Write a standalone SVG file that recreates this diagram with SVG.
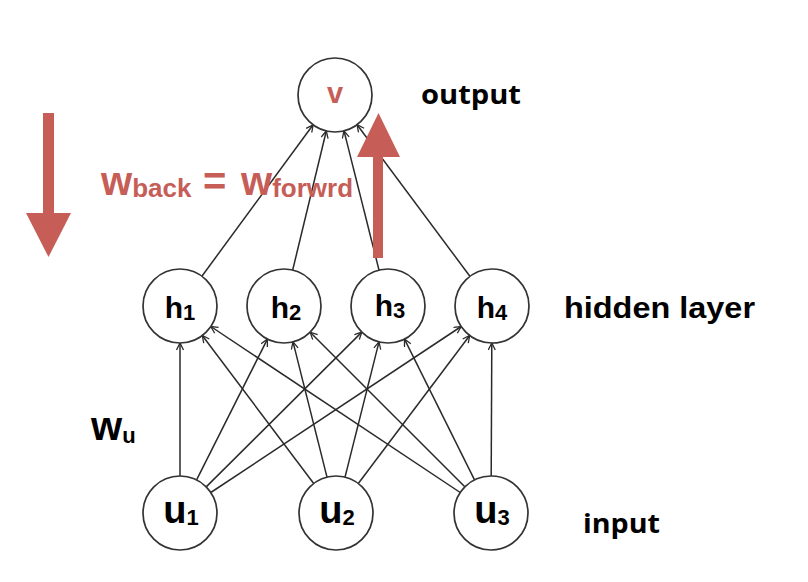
<svg xmlns="http://www.w3.org/2000/svg" width="808" height="582" viewBox="0 0 808 582">
<style>
.node circle{fill:#fff;stroke:#333;stroke-width:1.7}
.lbl{font-family:"Liberation Sans",Arial,sans-serif;font-weight:bold;fill:#000;text-anchor:middle}
.side{font-family:"Open Sans","Liberation Sans",sans-serif;font-weight:bold;fill:#000}
.conn line{stroke:#2a2a2a;stroke-width:1.5;marker-end:url(#ah)}
.red{fill:#c65d57}
</style>
<defs>
<marker id="ah" markerUnits="userSpaceOnUse" markerWidth="10" markerHeight="10" refX="8" refY="4" orient="auto">
<path d="M1,0.5 L8,4 L1,7.5" fill="none" stroke="#2a2a2a" stroke-width="1.3"/>
</marker>
</defs>
<rect width="808" height="582" fill="#fff"/>
<g id="connectors" class="conn">
<line x1="201.9" y1="276.2" x2="313.1" y2="124.8"/>
<line x1="292.7" y1="270.0" x2="326.3" y2="131.0"/>
<line x1="379.0" y1="270.1" x2="344.0" y2="130.9"/>
<line x1="469.9" y1="276.3" x2="357.1" y2="124.7"/>
<line x1="180" y1="476" x2="180" y2="343"/>
<line x1="196.6" y1="479.9" x2="267.4" y2="339.1"/>
<line x1="206.2" y1="486.9" x2="361.8" y2="332.1"/>
<line x1="210.8" y1="492.5" x2="461.2" y2="326.5"/>
<line x1="313.7" y1="483.5" x2="202.3" y2="335.5"/>
<line x1="327.0" y1="477.1" x2="293.0" y2="341.9"/>
<line x1="345.0" y1="477.1" x2="379.0" y2="341.9"/>
<line x1="358.3" y1="483.5" x2="469.7" y2="335.5"/>
<line x1="460.2" y1="492.5" x2="210.8" y2="326.5"/>
<line x1="464.8" y1="486.8" x2="310.2" y2="332.2"/>
<line x1="474.5" y1="479.9" x2="404.5" y2="339.1"/>
<line x1="491.2" y1="476" x2="491.8" y2="343"/>
</g>
<g id="v" class="node"><circle cx="335" cy="95" r="37"/><text class="lbl" x="335" y="103" font-size="29" style="fill:#c65d57">v</text></g>
<g id="h1" class="node"><circle cx="180" cy="306" r="37"/><text class="lbl" x="180" y="318" font-size="30">h<tspan font-size="22" dy="2">1</tspan></text></g>
<g id="h2" class="node"><circle cx="284" cy="306" r="37"/><text class="lbl" x="286" y="318" font-size="30">h<tspan font-size="22" dy="2">2</tspan></text></g>
<g id="h3" class="node"><circle cx="388" cy="306" r="37"/><text class="lbl" x="390" y="316" font-size="30">h<tspan font-size="22" dy="2">3</tspan></text></g>
<g id="h4" class="node"><circle cx="492" cy="306" r="37"/><text class="lbl" x="492" y="318" font-size="30">h<tspan font-size="22" dy="2">4</tspan></text></g>
<g id="u1" class="node"><circle cx="180" cy="513" r="37"/><text class="lbl" x="181" y="523" font-size="38">u<tspan font-size="22" dy="2">1</tspan></text></g>
<g id="u2" class="node"><circle cx="336" cy="513" r="37"/><text class="lbl" x="337" y="523" font-size="38">u<tspan font-size="22" dy="2">2</tspan></text></g>
<g id="u3" class="node"><circle cx="491" cy="513" r="37"/><text class="lbl" x="492" y="523" font-size="38">u<tspan font-size="22" dy="2">3</tspan></text></g>
<g id="labels">
<text class="side" x="421" y="104" font-size="27" textLength="100" lengthAdjust="spacingAndGlyphs">output</text>
<text class="side" x="564" y="318" font-size="30" textLength="191" lengthAdjust="spacingAndGlyphs" style="font-family:'Liberation Sans',Arial,sans-serif">hidden layer</text>
<text class="side" x="583" y="533" font-size="27" textLength="77" lengthAdjust="spacingAndGlyphs">input</text>
<text class="lbl" x="91" y="440" font-size="40" style="text-anchor:start">w<tspan font-size="22" dy="3">u</tspan></text>
<text class="lbl red" x="101" y="195" font-size="40" style="text-anchor:start;fill:#c65d57">w<tspan font-size="26" dy="2">back</tspan><tspan x="203" dy="-2">=</tspan><tspan x="241">w</tspan><tspan font-size="26" dy="2">forwrd</tspan></text>
</g>
<g id="arrows">
<rect class="red" x="373" y="156" width="10" height="102"/>
<polygon class="red" points="357,157 378.5,113 400,157"/>
<rect class="red" x="43" y="113" width="11" height="101"/>
<polygon class="red" points="26,213 48.5,257 71,213"/>
</g>
</svg>
